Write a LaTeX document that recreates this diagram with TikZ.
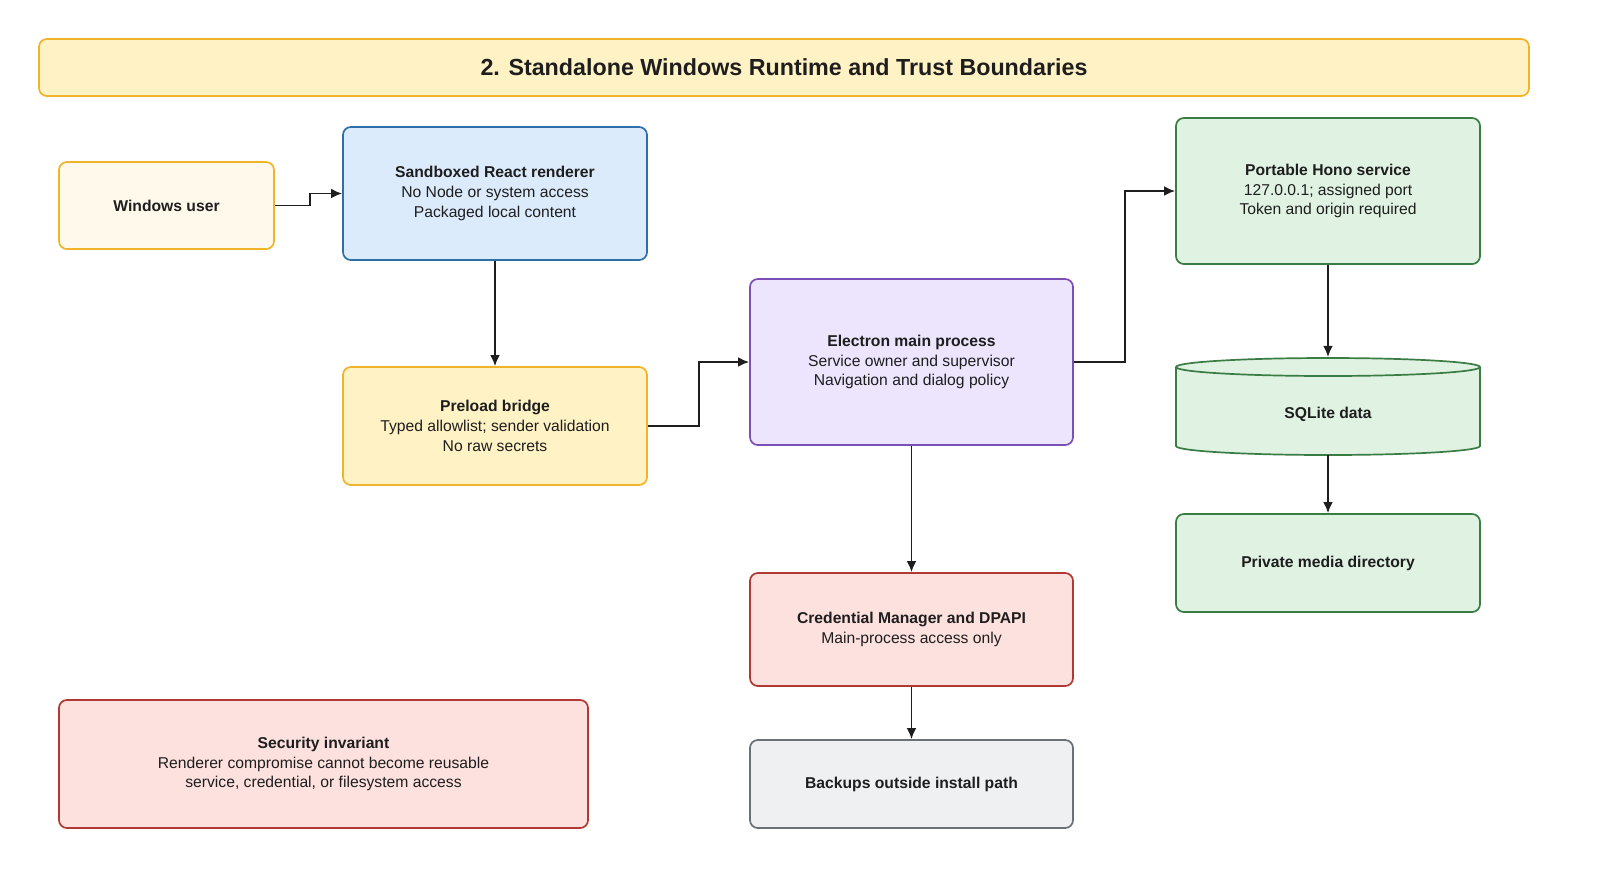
\documentclass[tikz,border=0pt]{standalone}
\usepackage{fontspec}
\setmainfont{Liberation Sans}
\usetikzlibrary{arrows.meta}
\definecolor{yfill}{HTML}{FFF2C4}\definecolor{ydraw}{HTML}{F0B429}
\definecolor{ufill}{HTML}{FFF9EC}
\definecolor{bfill}{HTML}{DCEBFC}\definecolor{bdraw}{HTML}{2F6FA8}
\definecolor{pfill}{HTML}{EDE5FD}\definecolor{pdraw}{HTML}{7B4FB5}
\definecolor{gfill}{HTML}{E0F2E2}\definecolor{gdraw}{HTML}{3A7D44}
\definecolor{rfill}{HTML}{FDE1DE}\definecolor{rdraw}{HTML}{B03A33}
\definecolor{sfill}{HTML}{EFF0F2}\definecolor{sdraw}{HTML}{6B6F76}
\definecolor{ink}{HTML}{1E1E1E}
\newlength{\pu}\setlength{\pu}{0.765pt}
\begin{document}
\begin{tikzpicture}[x=\pu,y=-\pu,
 box/.style={draw,line width=1.3pt,rounded corners=6pt,align=center,inner sep=0pt,
   font=\fontsize{12}{15.2}\selectfont,text=ink},
 arr/.style={draw=ink,line width=1.4pt,-{Latex[length=8.5pt,width=7.5pt]}}]
\useasboundingbox (0,0) rectangle (1600,885);
\node[box,fill=yfill,draw=ydraw,minimum width=1490\pu,minimum height=57\pu,font=\fontsize{17.8}{21}\selectfont\bfseries] (title) at (784,67.5) {2. Standalone Windows Runtime and Trust Boundaries};
\node[box,fill=ufill,draw=ydraw,minimum width=215\pu,minimum height=87\pu] (user) at (166.5,205.5) {\textbf{Windows user}};
\node[box,fill=bfill,draw=bdraw,minimum width=304\pu,minimum height=133\pu] (rend) at (495,193.5) {\textbf{Sandboxed React renderer}\\No Node or system access\\Packaged local content};
\node[box,fill=yfill,draw=ydraw,minimum width=304\pu,minimum height=118\pu] (pre) at (495,426) {\textbf{Preload bridge}\\Typed allowlist; sender validation\\No raw secrets};
\node[box,fill=pfill,draw=pdraw,minimum width=323\pu,minimum height=166\pu] (main) at (911.5,362) {\textbf{Electron main process}\\Service owner and supervisor\\Navigation and dialog policy};
\node[box,fill=gfill,draw=gdraw,minimum width=304\pu,minimum height=146\pu] (hono) at (1328,191) {\textbf{Portable Hono service}\\127.0.0.1; assigned port\\Token and origin required};
\node[box,fill=gfill,draw=gdraw,minimum width=304\pu,minimum height=98\pu] (media) at (1328,563) {\textbf{Private media directory}};
\node[box,fill=rfill,draw=rdraw,minimum width=323\pu,minimum height=113\pu] (cred) at (911.5,629.5) {\textbf{Credential Manager and DPAPI}\\Main-process access only};
\node[box,fill=sfill,draw=sdraw,minimum width=323\pu,minimum height=88\pu] (back) at (911.5,784) {\textbf{Backups outside install path}};
\node[box,fill=rfill,draw=rdraw,minimum width=529\pu,minimum height=128\pu] (sec) at (323.5,764) {\textbf{Security invariant}\\Renderer compromise cannot become reusable\\service, credential, or filesystem access};
% cylinder
\filldraw[fill=gfill,draw=gdraw,line width=1.3pt] (1176,367) -- (1176,446) arc[start angle=180,end angle=360,x radius=152\pu,y radius=9\pu] -- (1480,367) arc[start angle=0,end angle=180,x radius=152\pu,y radius=9\pu] -- cycle;
\draw[gdraw,line width=1.3pt] (1176,367) arc[start angle=180,end angle=360,x radius=152\pu,y radius=9\pu];
\node[font=\fontsize{12}{15}\selectfont\bfseries,text=ink] (sql) at (1328,414) {SQLite data};
\coordinate (sqltop) at (1328,357);
\coordinate (sqlbot) at (1328,455);
% arrows
\draw[arr] (user.east) -- ++(35\pu,0) |- (rend.west);
\draw[arr] (rend.south) -- (pre.north);
\draw[arr] (pre.east) -- ++(51\pu,0) |- (main.west);
\draw[arr] (main.east) -- ++(51\pu,0) |- (hono.west);
\draw[arr] (main.south) -- (cred.north);
\draw[arr] (cred.south) -- (back.north);
\draw[arr] (hono.south) -- (sqltop);
\draw[arr] (sqlbot) -- (media.north);
\end{tikzpicture}
\end{document}
